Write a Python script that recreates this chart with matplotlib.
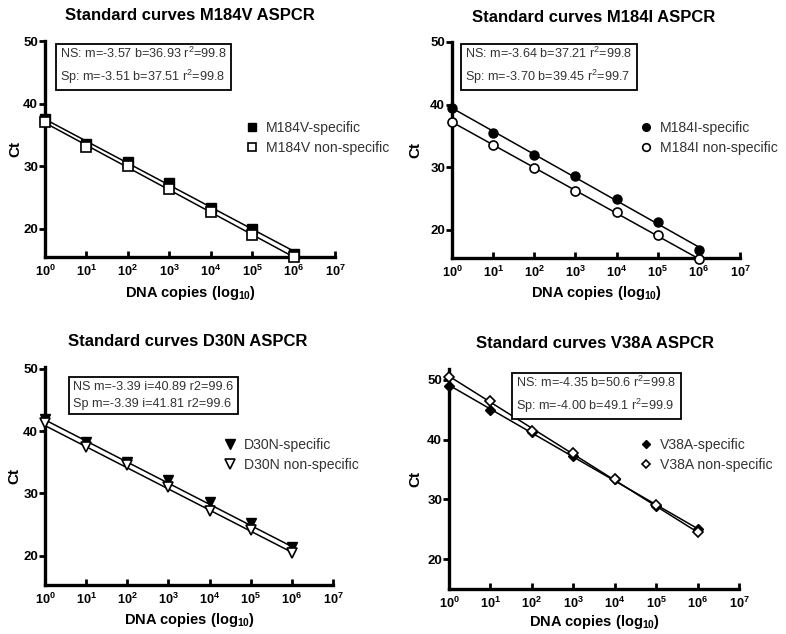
import numpy as np
import matplotlib
matplotlib.use("Agg")
import matplotlib.pyplot as plt
from matplotlib.ticker import FixedLocator, FuncFormatter
from matplotlib.lines import Line2D

plt.rcParams['font.family'] = ['Liberation Sans', 'DejaVu Sans']
plt.rcParams['mathtext.fontset'] = 'custom'
plt.rcParams['mathtext.rm'] = 'Liberation Sans'
plt.rcParams['mathtext.it'] = 'Liberation Sans:italic'
plt.rcParams['mathtext.bf'] = 'Liberation Sans:bold'

copies = [1e0, 1e1, 1e2, 1e3, 1e4, 1e5, 1e6]

# Panel data
titles = ["Standard curves M184V ASPCR", "Standard curves M184I ASPCR",
          "Standard curves D30N ASPCR", "Standard curves V38A ASPCR"]
spec_labels = ["M184V-specific", "M184I-specific", "D30N-specific", "V38A-specific"]
ns_labels = ["M184V non-specific", "M184I non-specific", "D30N non-specific", "V38A non-specific"]
markers = ["s", "o", "v", "D"]

m184v_spec = [37.5, 33.5, 30.7, 27.3, 23.3, 20.0, 16.0]
m184v_ns = [37.0, 33.1, 30.0, 26.4, 22.7, 19.0, 15.5]
m184i_spec = [39.5, 35.4, 32.0, 28.6, 25.0, 21.2, 16.8]
m184i_ns = [37.2, 33.5, 29.9, 26.2, 22.9, 19.1, 15.4]
d30n_spec = [42.0, 38.2, 35.0, 32.2, 28.7, 25.2, 21.4]
d30n_ns = [41.3, 37.4, 34.5, 31.0, 27.2, 24.1, 20.4]
v38a_spec = [49.0, 44.9, 41.3, 37.3, 33.4, 28.9, 25.0]
v38a_ns = [50.4, 46.4, 41.4, 37.7, 33.4, 29.0, 24.5]

spec_data = [m184v_spec, m184i_spec, d30n_spec, v38a_spec]
ns_data = [m184v_ns, m184i_ns, d30n_ns, v38a_ns]

# Fit parameters (from the annotation boxes)
ns_slope = [-3.57, -3.64, -3.39, -4.35]
ns_icpt = [36.93, 37.21, 40.89, 50.6]
sp_slope = [-3.51, -3.70, -3.39, -4.00]
sp_icpt = [37.51, 39.45, 41.81, 49.1]

box_texts = [
    "NS: m=-3.57 b=36.93 r$^2$=99.8\nSp: m=-3.51 b=37.51 r$^2$=99.8",
    "NS: m=-3.64 b=37.21 r$^2$=99.8\nSp: m=-3.70 b=39.45 r$^2$=99.7",
    "NS m=-3.39 i=40.89 r2=99.6\nSp m=-3.39 i=41.81 r2=99.6",
    "NS: m=-4.35 b=50.6 r$^2$=99.8\nSp: m=-4.00 b=49.1 r$^2$=99.9",
]

W, H = 786, 634
fig = plt.figure(figsize=(W / 100, H / 100), dpi=100)

# layout in pixels: left, right, top, bottom, ylim
layout = [
    (45, 335, 41, 257, (15.5, 50.0)),
    (452, 740, 42, 258, (15.5, 50.0)),
    (45, 333, 367, 585, (15.3, 50.3)),
    (449, 739, 369, 589, (15.0, 51.8)),
]
title_pos = [(190, 15), (594, 17), (188, 342), (595, 344)]
box_pos = [(55, 41), (460, 41), (68, 376), (511, 370)]
legend_pos = [(246, 138), (640, 138), (224, 455), (640, 455)]
xlabel_y = [293, 293, 620, 622]
ylabel_x = [22, 422, 21, 422]

fit_x = [1e0, 1e6]

for i in range(4):
    l, r, t, b, yl = layout[i]
    ax = fig.add_axes([l / W, 1 - b / H, (r - l) / W, (b - t) / H])
    ax.set_xscale('log')
    ax.set_xlim(1, 1e7)
    ax.set_ylim(*yl)
    for s in ['top', 'right']:
        ax.spines[s].set_visible(False)
    for s in ['left', 'bottom']:
        ax.spines[s].set_linewidth(2.4)
    ax.xaxis.set_major_locator(FixedLocator([10.0 ** k for k in range(8)]))
    ax.xaxis.set_minor_locator(FixedLocator([]))
    ax.xaxis.set_major_formatter(FuncFormatter(
        lambda v, p: r'$\mathbf{10^{%d}}$' % int(round(np.log10(v)))))
    ax.set_yticks([20, 30, 40, 50])
    ax.tick_params(axis='x', direction='in', length=4, width=2, labelsize=9.2, pad=5)
    ax.tick_params(axis='y', direction='out', length=4, width=2, labelsize=9.5, pad=1)
    for lab in ax.get_yticklabels():
        lab.set_fontweight('bold')

    lx = np.array(fit_x)
    ax.plot(lx, sp_icpt[i] + sp_slope[i] * np.log10(lx), color='black', lw=1.1, zorder=2)
    ax.plot(lx, ns_icpt[i] + ns_slope[i] * np.log10(lx), color='black', lw=1.1, zorder=2)

    mk = markers[i]
    ms = {'s': 6.5, 'o': 6.5, 'v': 7.5, 'D': 5.5}[mk]
    ax.plot(copies, spec_data[i], ls='none', marker=mk, ms=ms, mfc='black',
            mec='black', mew=1.0, clip_on=False, zorder=3)
    ax.plot(copies, ns_data[i], ls='none', marker=mk, ms=ms, mfc='white',
            mec='black', mew=1.2, clip_on=False, zorder=4)

    ax.set_ylabel('Ct', fontsize=11, fontweight='bold')
    ax.yaxis.set_label_coords((ylabel_x[i] - l) / (r - l), 0.5)
    fig.text((l + r) / 2 / W, 1 - xlabel_y[i] / H, r'DNA copies (log$_{\mathbf{10}}$)',
             ha='center', va='center', fontsize=10.5, fontweight='bold')

    tx, ty = title_pos[i]
    fig.text(tx / W, 1 - ty / H, titles[i], ha='center', va='center',
             fontsize=12, fontweight='bold')

    bx, by = box_pos[i]
    fig.text((bx + 5) / W, 1 - (by + 5) / H, box_texts[i], ha='left', va='top',
             fontsize=9.1, color='#333333', linespacing=1.5,
             bbox=dict(boxstyle='square,pad=0.35', fc='white', ec='black', lw=1.3))

    handles = [
        Line2D([], [], ls='none', marker=mk, ms=ms - 1, mfc='black', mec='black'),
        Line2D([], [], ls='none', marker=mk, ms=ms - 1, mfc='white', mec='black', mew=1.2),
    ]
    gx, gy = legend_pos[i]
    fig.legend(handles, [spec_labels[i], ns_labels[i]], loc='center left',
               bbox_to_anchor=(gx / W, 1 - gy / H), frameon=False, fontsize=10.1,
               handlelength=0.8, handletextpad=0.6, labelspacing=0.45,
               borderpad=0, borderaxespad=0, labelcolor='#333333')

fig.savefig('out.png', dpi=100)
